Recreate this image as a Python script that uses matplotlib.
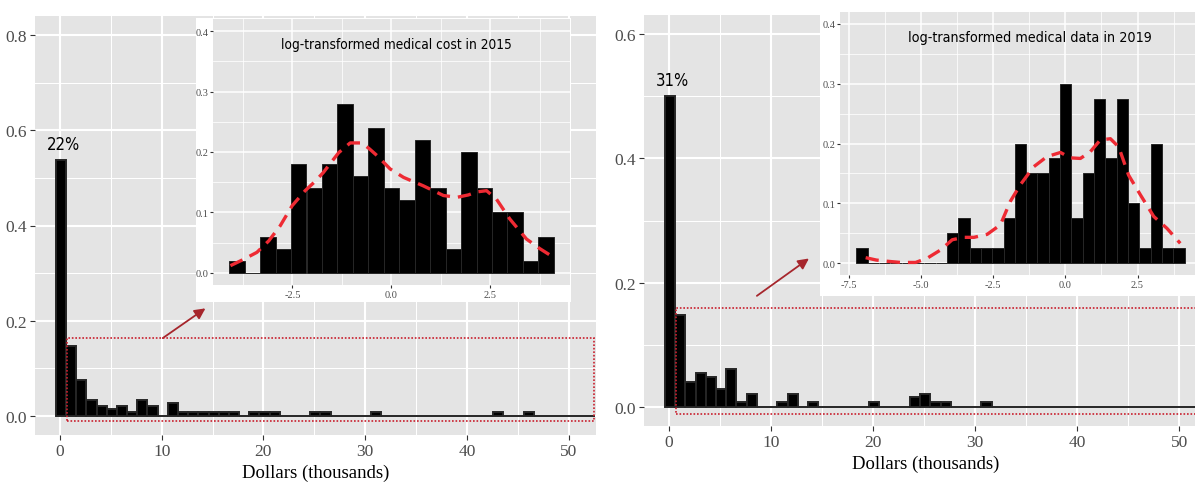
import numpy as np
import matplotlib.pyplot as plt
from matplotlib.patches import Rectangle
from matplotlib.ticker import FixedLocator, FormatStrFormatter

# Density of annual medical cost, $1k bins starting at 0 (bins 0..52)
cost2015_density = [0.537, 0.147, 0.075, 0.034, 0.021, 0.015, 0.021, 0.009, 0.034, 0.021,
                    0.0, 0.027, 0.009, 0.009, 0.009, 0.009, 0.009, 0.009, 0.0, 0.009,
                    0.009, 0.009, 0.0, 0.0, 0.0, 0.009, 0.009, 0.0, 0.0, 0.0,
                    0.0, 0.009, 0.0, 0.0, 0.0, 0.0, 0.0, 0.0, 0.0, 0.0,
                    0.0, 0.0, 0.0, 0.009, 0.0, 0.0, 0.009, 0.0, 0.0, 0.0,
                    0.0, 0.0, 0.0]
cost2019_density = [0.500, 0.148, 0.041, 0.055, 0.048, 0.029, 0.062, 0.009, 0.022, 0.0,
                    0.0, 0.009, 0.022, 0.0, 0.009, 0.0, 0.0, 0.0, 0.0, 0.0,
                    0.009, 0.0, 0.0, 0.0, 0.016, 0.022, 0.009, 0.009, 0.0, 0.0,
                    0.0, 0.009, 0.0, 0.0, 0.0, 0.0, 0.0, 0.0, 0.0, 0.0,
                    0.0, 0.0, 0.0, 0.0, 0.0, 0.0, 0.0, 0.0, 0.0, 0.0,
                    0.0, 0.0, 0.0]
dollar_bin_start = -0.4
dollar_bin_width = 1.0
zero_share = ["22%", "31%"]

# log-transformed costs (non-zero spenders)
log2015_range = (-4.10, 4.11)
log2015_density = [0.02, 0.0, 0.06, 0.04, 0.18, 0.14, 0.18, 0.28, 0.16, 0.24,
                   0.14, 0.12, 0.22, 0.14, 0.04, 0.20, 0.14, 0.10, 0.10, 0.02, 0.06]
log2019_range = (-7.24, 4.13)
log2019_density = [0.025, 0.0, 0.0, 0.0, 0.0, 0.0, 0.0, 0.0, 0.05, 0.075,
                   0.025, 0.025, 0.025, 0.075, 0.2, 0.15, 0.15, 0.175, 0.3, 0.075,
                   0.15, 0.275, 0.175, 0.275, 0.1, 0.025, 0.2, 0.025, 0.025]

# kernel density estimates of the log costs
kde2015_x = [-4.07, -3.75, -3.40, -3.10, -2.81, -2.51, -2.18, -1.95, -1.72, -1.52, -1.33,
             -1.04, -0.74, -0.55, -0.36, -0.03, 0.31, 0.81, 1.32, 1.66, 1.95, 2.16,
             2.41, 2.66, 3.00, 3.42, 3.76, 4.10]
kde2015_y = [0.012, 0.022, 0.034, 0.053, 0.078, 0.111, 0.136, 0.150, 0.166, 0.183, 0.199,
             0.215, 0.215, 0.205, 0.194, 0.172, 0.158, 0.144, 0.128, 0.125, 0.129, 0.134,
             0.136, 0.122, 0.089, 0.056, 0.040, 0.026]
kde2019_x = [-6.92, -6.55, -6.17, -5.71, -5.19, -4.79, -4.32, -3.92, -3.52, -3.17, -2.71,
             -2.25, -1.91, -1.56, -1.10, -0.64, -0.17, 0.17, 0.52, 0.86, 1.21, 1.56,
             1.85, 2.19, 2.60, 3.06, 3.52, 3.98]
kde2019_y = [0.009, 0.005, 0.003, 0.001, 0.001, 0.008, 0.022, 0.039, 0.043, 0.043, 0.048,
             0.064, 0.103, 0.131, 0.161, 0.178, 0.185, 0.176, 0.175, 0.186, 0.206, 0.208,
             0.194, 0.147, 0.114, 0.078, 0.058, 0.033]

plt.rcParams['font.family'] = ['Liberation Serif', 'DejaVu Serif']
NARROW = dict(family=['DejaVu Sans'], fontstretch='condensed')
PANEL = '#E4E4E4'
TICKLAB = '#4D4D4D'
KDE_RED = '#EE2A33'
BOX_RED = '#C9202E'
ARROW_RED = '#A6262C'


def gg_axes(ax, xmaj, xmin, ymaj, ymin, size, length, pad, major_lw, minor_lw):
    ax.set_facecolor(PANEL)
    for s in ax.spines.values():
        s.set_visible(False)
    ax.xaxis.set_major_locator(FixedLocator(xmaj))
    ax.xaxis.set_minor_locator(FixedLocator(xmin))
    ax.yaxis.set_major_locator(FixedLocator(ymaj))
    ax.yaxis.set_minor_locator(FixedLocator(ymin))
    ax.grid(which='major', color='white', lw=major_lw)
    ax.grid(which='minor', color='white', lw=minor_lw)
    ax.set_axisbelow(True)
    ax.tick_params(which='minor', length=0)
    ax.tick_params(which='major', color='#333333', labelcolor=TICKLAB,
                   labelsize=size, length=length, width=0.8, pad=pad)
    ax.yaxis.set_major_formatter(FormatStrFormatter('%.1f'))


def main_panel(ax, density, ylim, yticks, label):
    n = len(density)
    edges = dollar_bin_start + dollar_bin_width * np.arange(n + 1)
    ax.bar(edges[:-1], density, width=np.diff(edges), align='edge',
           color='black', edgecolor='#262626', lw=1.4, zorder=2)
    ax.set_xlim(-2.46, 52.7)
    ax.set_ylim(*ylim)
    gg_axes(ax, [0, 10, 20, 30, 40, 50], [5, 15, 25, 35, 45],
            yticks, [t + 0.1 for t in yticks[:-1]], 12.5, 3.6, 2.2, 1.5, 0.75)
    ax.xaxis.set_major_formatter(FormatStrFormatter('%d'))
    ax.set_xlabel('Dollars (thousands)', fontsize=13.5, labelpad=3)
    ax.annotate(label, xy=(edges[0] + 0.5 * dollar_bin_width, density[0]),
                xytext=(2, 5), textcoords='offset points', ha='center', va='bottom',
                fontsize=12, **NARROW)


def inset_panel(ax, density, rng, kde_x, kde_y, xmaj, title, title_x, title_size):
    edges = np.linspace(rng[0], rng[1], len(density) + 1)
    ax.bar(edges[:-1], density, width=np.diff(edges), align='edge',
           color='black', edgecolor='#262626', lw=0.7, zorder=2)
    ax.plot(kde_x, kde_y, color=KDE_RED, lw=2.4, dashes=(4.0, 2.4), zorder=3)
    pad = 0.05 * (rng[1] - rng[0])
    ax.set_xlim(rng[0] - pad, rng[1] + pad)
    ax.set_ylim(-0.02, 0.42)
    xmin = [(a + b) / 2 for a, b in zip(xmaj[:-1], xmaj[1:])]
    xmin = [xmaj[0] - 1.25] + xmin + [xmaj[-1] + 1.25]
    gg_axes(ax, xmaj, xmin, [0, 0.1, 0.2, 0.3, 0.4], [0.05, 0.15, 0.25, 0.35],
            7.5, 2.2, 1.2, 1.1, 0.55)
    ax.xaxis.set_major_formatter(FormatStrFormatter('%.1f'))
    ax.text(title_x, 0.905, title, transform=ax.transAxes, ha='center', va='center',
            fontsize=title_size, **NARROW)


W, H = 1195, 485
fig = plt.figure(figsize=(W / 100, H / 100), dpi=100)


def px_axes(x0, y0, x1, y1, z=0):
    # rectangle given in pixel coordinates, origin top-left
    a = fig.add_axes([x0 / W, 1 - y1 / H, (x1 - x0) / W, (y1 - y0) / H])
    a.set_zorder(z)
    return a


def px_box(x0, y0, x1, y1):
    fig.add_artist(Rectangle((x0 / W, 1 - y1 / H), (x1 - x0) / W, (y1 - y0) / H,
                             transform=fig.transFigure, facecolor='white',
                             edgecolor='none', zorder=1))


# 2015
ax1 = px_axes(35, 17, 596, 436)
main_panel(ax1, cost2015_density, (-0.04, 0.84), [0, 0.2, 0.4, 0.6, 0.8], zero_share[0])
ax1.add_patch(Rectangle((0.72, -0.011), 52.5 - 0.72, 0.1635 + 0.011, fill=False,
                        ec=BOX_RED, lw=1.2, ls=(0, (1, 1.1)), zorder=4))
ax1.annotate('', xy=(14.3, 0.226), xytext=(10.1, 0.1635),
             arrowprops=dict(arrowstyle='-|>', color=ARROW_RED, lw=1.3,
                             mutation_scale=16, shrinkA=0, shrinkB=0))
px_box(196, 19, 571, 303)
in1 = px_axes(213, 20, 570, 286, z=2)
inset_panel(in1, log2015_density, log2015_range, kde2015_x, kde2015_y,
            [-2.5, 0.0, 2.5], 'log-transformed medical cost in 2015', 0.515, 9.8)

# 2019
ax2 = px_axes(644, 16, 1207, 427)
main_panel(ax2, cost2019_density, (-0.03, 0.63), [0, 0.2, 0.4, 0.6], zero_share[1])
ax2.add_patch(Rectangle((0.65, -0.0107), 52.5 - 0.65, 0.160 + 0.0107, fill=False,
                        ec=BOX_RED, lw=1.2, ls=(0, (1, 1.1)), zorder=4))
ax2.annotate('', xy=(13.7, 0.239), xytext=(8.6, 0.179),
             arrowprops=dict(arrowstyle='-|>', color=ARROW_RED, lw=1.3,
                             mutation_scale=16, shrinkA=0, shrinkB=0))
px_box(820, 13, 1215, 297)
in2 = px_axes(840, 13, 1201, 276, z=2)
inset_panel(in2, log2019_density, log2019_range, kde2019_x, kde2019_y,
            [-7.5, -5.0, -2.5, 0.0, 2.5], 'log-transformed medical data in 2019', 0.527, 10.3)

fig.savefig('out.png', dpi=100)
